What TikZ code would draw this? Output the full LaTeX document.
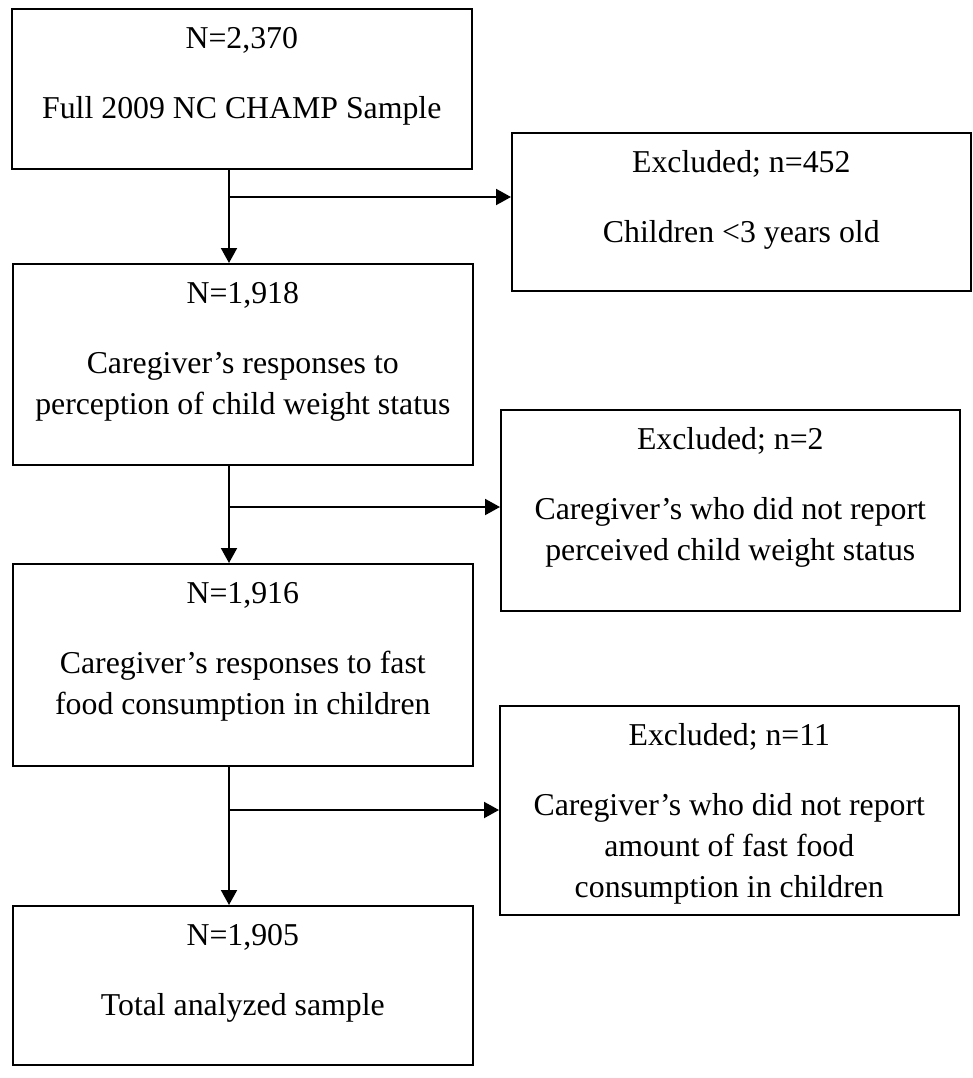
\documentclass[tikz,border=0pt]{standalone}
\usepackage{fontspec}
\setmainfont{Liberation Serif}
\usetikzlibrary{arrows.meta}
% box contents: width, height, lines (top aligned)
\newcommand{\boxbody}[3]{\parbox[c][#2][t]{#1}{\centering\rule{0pt}{40pt}#3}}
\begin{document}
\begin{tikzpicture}[x=1pt, y=-1pt,
    font=\fontsize{31.8}{41}\selectfont,
    flowbox/.style={draw, line width=1.6pt, inner sep=0pt, anchor=north west},
    flowarrow/.style={line width=2pt, -{Triangle[length=15pt,width=16pt]}}]
  \useasboundingbox (0,0) rectangle (972,1078);
  % main column
  \node[flowbox] (full) at (11,8) {\boxbody{460pt}{160pt}{N=2,370\\[29pt]Full 2009 NC CHAMP Sample}};
  \node[flowbox] (weight) at (12,263) {\boxbody{460pt}{201pt}{N=1,918\\[29pt]Caregiver’s responses to\\perception of child weight status}};
  \node[flowbox] (food) at (12,563) {\boxbody{460pt}{202pt}{N=1,916\\[29pt]Caregiver’s responses to fast\\food consumption in children}};
  \node[flowbox] (total) at (12,905) {\boxbody{460pt}{159pt}{N=1,905\\[29pt]Total analyzed sample}};
  % exclusions
  \node[flowbox] (exage) at (511,132) {\boxbody{459pt}{158pt}{Excluded; n=452\\[29pt]Children <3 years old}};
  \node[flowbox] (exweight) at (500,409) {\boxbody{459pt}{201pt}{Excluded; n=2\\[29pt]Caregiver’s who did not report\\perceived child weight status}};
  \node[flowbox] (exfood) at (499,705) {\boxbody{459pt}{209pt}{Excluded; n=11\\[29pt]Caregiver’s who did not report\\amount of fast food\\consumption in children}};
  % arrows
  \coordinate (split1) at (229,197);
  \coordinate (split2) at (229,507);
  \coordinate (split3) at (229,810);
  \draw[flowarrow] (split1 |- full.south) -- (split1 |- weight.north);
  \draw[flowarrow] (split1) -- (split1 -| exage.west);
  \draw[flowarrow] (split2 |- weight.south) -- (split2 |- food.north);
  \draw[flowarrow] (split2) -- (split2 -| exweight.west);
  \draw[flowarrow] (split3 |- food.south) -- (split3 |- total.north);
  \draw[flowarrow] (split3) -- (split3 -| exfood.west);
\end{tikzpicture}
\end{document}
